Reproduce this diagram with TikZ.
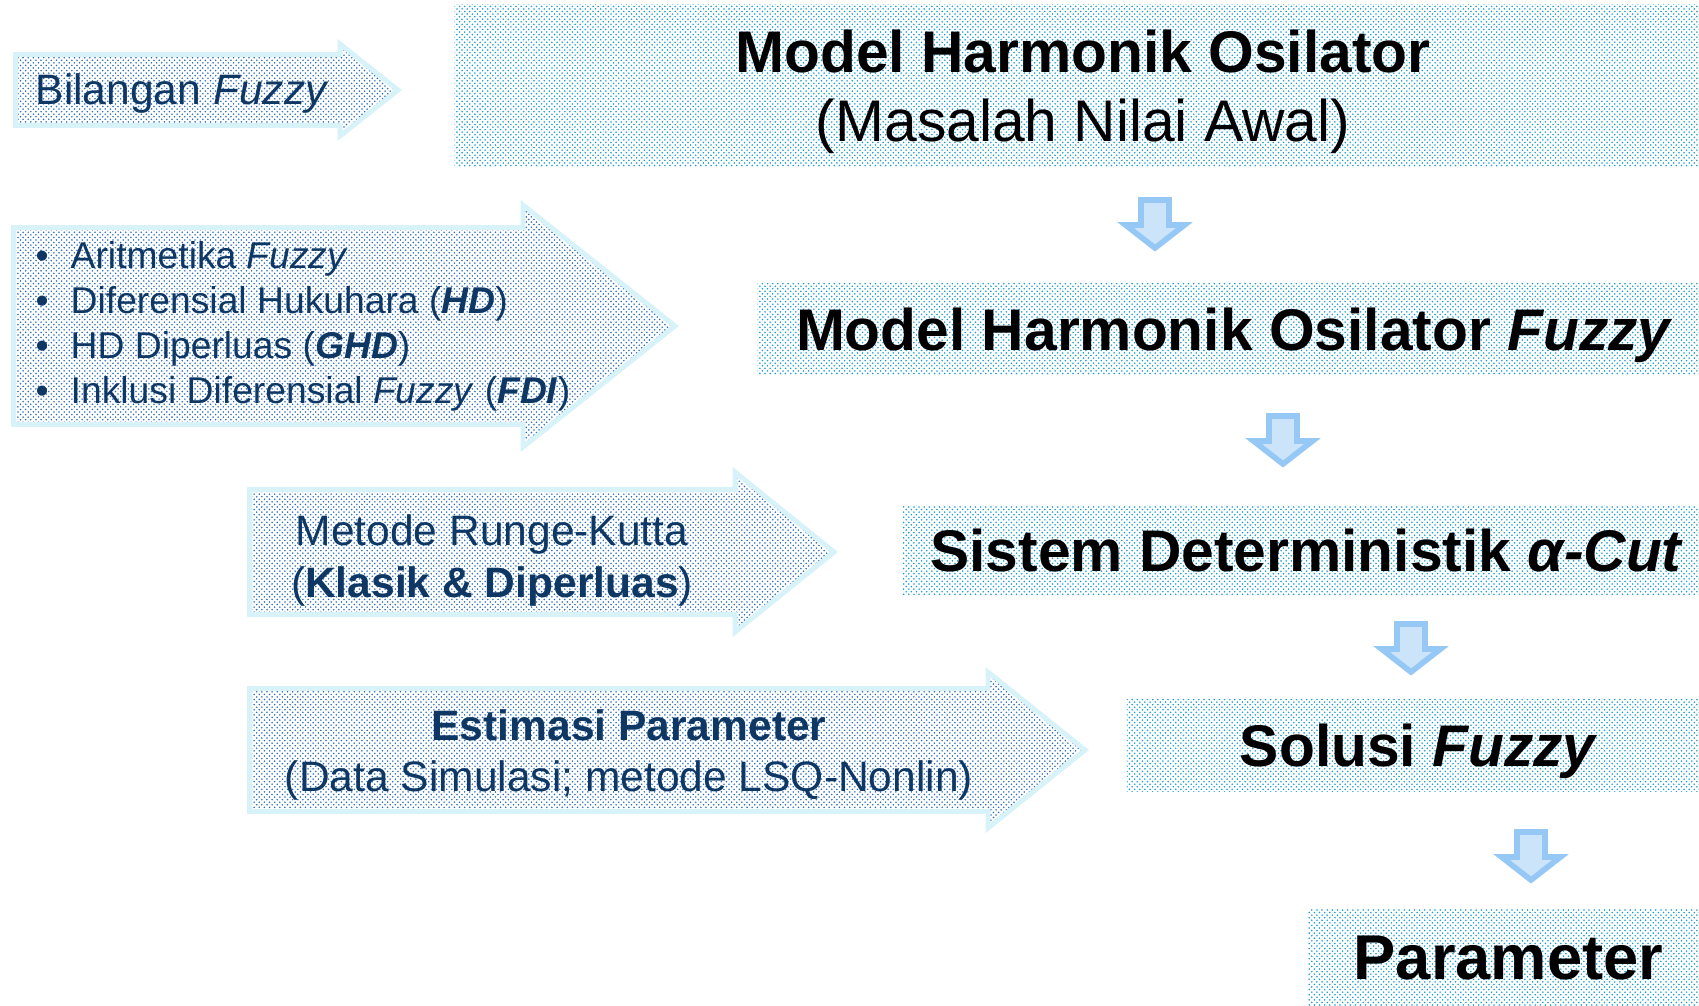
\documentclass[tikz,border=0pt]{standalone}
\usepackage{fontspec}
\setmainfont{Liberation Sans}
\usepackage{tikz}
\usetikzlibrary{patterns}
\definecolor{box-dot}{RGB}{25,155,214}
\definecolor{arrow-dot}{RGB}{45,110,185}
\definecolor{arrow-edge}{RGB}{215,242,248}
\definecolor{arrow-text}{RGB}{15,55,100}
\definecolor{down-fill}{RGB}{204,228,250}
\definecolor{down-edge}{RGB}{150,200,245}
\pgfdeclarepatternformonly{finedots}{\pgfqpoint{-0.4pt}{-0.4pt}}{\pgfqpoint{1.2pt}{1.2pt}}{\pgfqpoint{1.46pt}{1.46pt}}{%
  \pgfpathcircle{\pgfqpoint{0pt}{0pt}}{0.25pt}%
  \pgfpathcircle{\pgfqpoint{0.73pt}{0.73pt}}{0.25pt}%
  \pgfusepath{fill}}
\begin{document}
\begin{tikzpicture}[x=0.01cm, y=-0.01cm,
    stage/.style={rectangle, pattern=finedots, pattern color=box-dot, inner sep=0pt, outer sep=0pt, text depth=0pt, align=center, font=\fontsize{16.7}{19.6}\selectfont\bfseries},
    bigarrow/.style={draw=arrow-edge, line width=1.4pt, pattern=finedots, pattern color=arrow-dot, line join=miter},
    downarrow/.style={draw=down-edge, fill=down-fill, line width=1.6pt, line join=miter},
    note/.style={text=arrow-text, inner sep=0pt, font=\fontsize{12.1}{14.5}\selectfont}]

    \useasboundingbox (0,0) rectangle (1699,1005);

    % Left side: method arrows
    \draw[bigarrow] (15.5,54.5) -- (340,54.5) -- (340,44) -- (398,90) -- (340,136) -- (340,125.5) -- (15.5,125.5) -- cycle;
    \draw[bigarrow] (13.5,227.5) -- (523,227.5) -- (523,205) -- (675,326) -- (523,447) -- (523,424.5) -- (13.5,424.5) -- cycle;
    \draw[bigarrow] (249.5,489.5) -- (735,489.5) -- (735,472) -- (834,552) -- (735,632) -- (735,614.5) -- (249.5,614.5) -- cycle;
    \draw[bigarrow] (249.5,688.5) -- (988,688.5) -- (988,672) -- (1085,750) -- (988,828) -- (988,811.5) -- (249.5,811.5) -- cycle;

    \node[note, anchor=base west] (bil) at (35,104) {Bilangan \textit{Fuzzy}};

    \node[note, font=\fontsize{10.6}{12.7}\selectfont, anchor=base west] (ar1) at (35,268) {\makebox[0.35cm][l]{•}Aritmetika \textit{Fuzzy}};
    \node[note, font=\fontsize{10.6}{12.7}\selectfont, anchor=base west] (ar2) at (35,313) {\makebox[0.35cm][l]{•}Diferensial Hukuhara (\textbf{\textit{HD}})};
    \node[note, font=\fontsize{10.6}{12.7}\selectfont, anchor=base west] (ar3) at (35,358) {\makebox[0.35cm][l]{•}HD Diperluas (\textbf{\textit{GHD}})};
    \node[note, font=\fontsize{10.6}{12.7}\selectfont, anchor=base west] (ar4) at (35,403) {\makebox[0.35cm][l]{•}Inklusi Diferensial \textit{Fuzzy} (\textbf{\textit{FDI}})};

    \node[note, anchor=base] (rk1) at (492,545) {Metode Runge-Kutta};
    \node[note, anchor=base] (rk2) at (492,597) {(\textbf{Klasik \& Diperluas})};

    \node[note, anchor=base] (est1) at (629,740) {\textbf{Estimasi Parameter}};
    \node[note, anchor=base] (est2) at (629,791) {(Data Simulasi; metode LSQ-Nonlin)};

    % Right side: stages (they run past the right edge)
    \node[stage, minimum width=12.56cm, minimum height=1.61cm] (mho) at (1083,85.5) {Model Harmonik Osilator\\{\mdseries (Masalah Nilai Awal)}};
    \node[stage, minimum width=9.53cm, minimum height=0.90cm] (mhof) at (1234.5,329) {Model Harmonik Osilator \textit{Fuzzy}};
    \node[stage, minimum width=8.08cm, minimum height=0.88cm] (sdac) at (1307,550) {Sistem Deterministik \textit{α-Cut}};
    \node[stage, minimum width=5.84cm, minimum height=0.91cm] (sol) at (1419,745.5) {Solusi \textit{Fuzzy}};
    \node[stage, minimum width=4.01cm, minimum height=0.95cm, font=\fontsize{18}{21}\selectfont\bfseries] (par) at (1508.5,957.5) {Parameter};

    % Down arrows between stages
    \draw[downarrow, shift={(1155,200)}] (-14,0) -- (14,0) -- (14,25) -- (29.5,25) -- (0,48) -- (-29.5,25) -- (-14,25) -- cycle;
    \draw[downarrow, shift={(1283,416)}] (-14,0) -- (14,0) -- (14,25) -- (29.5,25) -- (0,48) -- (-29.5,25) -- (-14,25) -- cycle;
    \draw[downarrow, shift={(1411,624)}] (-14,0) -- (14,0) -- (14,25) -- (29.5,25) -- (0,48) -- (-29.5,25) -- (-14,25) -- cycle;
    \draw[downarrow, shift={(1531,832)}] (-14,0) -- (14,0) -- (14,25) -- (29.5,25) -- (0,48) -- (-29.5,25) -- (-14,25) -- cycle;
\end{tikzpicture}
\end{document}
